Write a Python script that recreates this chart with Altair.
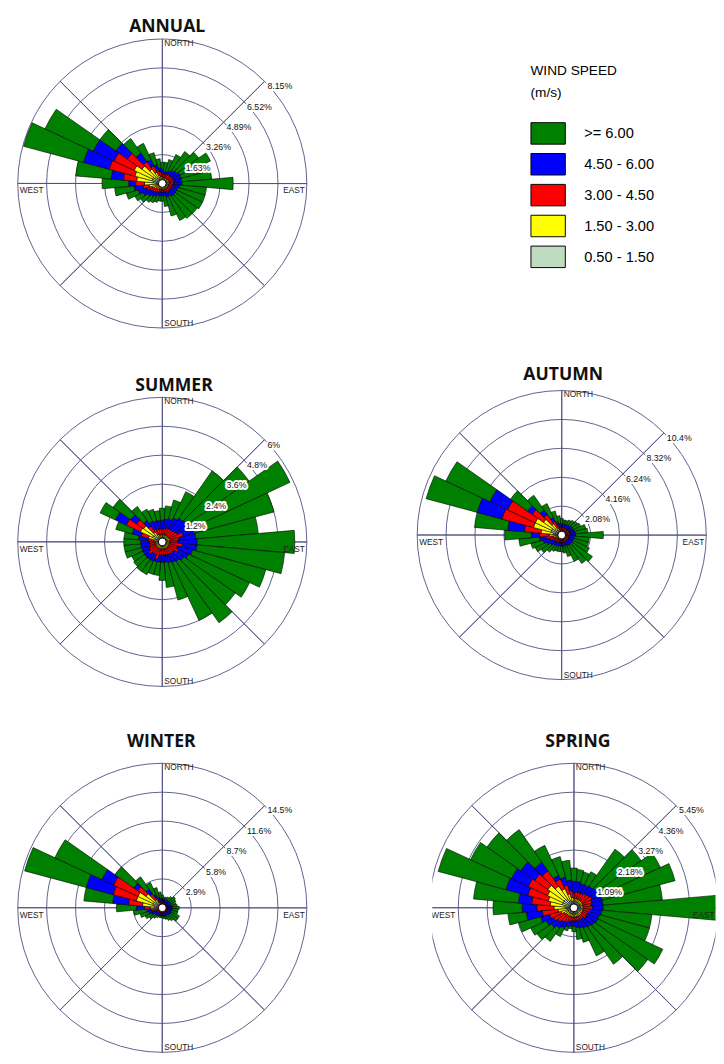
import math
import altair as alt
import pandas as pd

# ---------------- data ----------------
DIRS = list(range(0, 360, 10))  # sector centres, degrees from north
CLASSES = [">= 6.00", "4.50 - 6.00", "3.00 - 4.50", "1.50 - 3.00", "0.50 - 1.50"]
COLORS = ["#008000", "#0000ff", "#ff0000", "#ffff00", "#c0dcc0"]

# cumulative frequency (%) of winds up to the top of each speed class, per direction
ANNUAL_TO_1_5 = [0.25, 0.25, 0.25, 0.25, 0.25, 0.25, 0.25, 0.25, 0.25, 0.25, 0.25, 0.25, 0.25, 0.25, 0.25, 0.25, 0.25, 0.25,
                 0.25, 0.25, 0.25, 0.25, 0.25, 0.25, 0.25, 0.25, 0.3, 0.35, 0.5, 0.6, 0.6, 0.5, 0.4, 0.3, 0.25, 0.25]
ANNUAL_TO_3_0 = [0.4, 0.35, 0.35, 0.35, 0.35, 0.35, 0.4, 0.4, 0.4, 0.4, 0.35, 0.35, 0.35, 0.35, 0.35, 0.35, 0.35, 0.35,
                 0.35, 0.35, 0.35, 0.35, 0.4, 0.4, 0.5, 0.6, 0.75, 1.0, 1.45, 1.6, 1.75, 1.4, 1.0, 0.7, 0.5, 0.4]
ANNUAL_TO_4_5 = [0.6, 0.55, 0.55, 0.55, 0.6, 0.6, 0.65, 0.65, 0.65, 0.65, 0.6, 0.55, 0.55, 0.55, 0.55, 0.5, 0.5, 0.5,
                 0.5, 0.5, 0.5, 0.55, 0.6, 0.65, 0.75, 0.9, 1.1, 1.5, 2.2, 3.1, 3.0, 2.4, 1.5, 1.1, 0.8, 0.65]
ANNUAL_TO_6_0 = [0.8, 0.7, 0.7, 0.8, 0.9, 1.0, 1.1, 1.1, 1.1, 1.1, 1.0, 0.9, 0.9, 0.9, 0.9, 0.8, 0.8, 0.7,
                 0.7, 0.7, 0.7, 0.8, 0.9, 1.0, 1.2, 1.4, 1.6, 1.9, 2.9, 4.6, 4.3, 3.2, 2.1, 1.5, 1.1, 0.9]
ANNUAL_ALL = [1.2, 1.2, 1.4, 1.8, 2.2, 2.5, 3.0, 2.7, 2.8, 4.0, 2.5, 2.5, 2.5, 2.4, 2.4, 2.3, 1.9, 1.3,
              1.0, 1.0, 1.1, 1.2, 1.3, 1.5, 1.7, 2.1, 2.7, 3.4, 4.9, 8.1, 7.3, 4.3, 3.1, 2.5, 1.8, 1.4]
ANNUAL_RINGS = [1.63, 3.26, 4.89, 6.52, 8.15]
ANNUAL_RING_LABELS = ["1.63%", "3.26%", "4.89%", "6.52%", "8.15%"]

SUMMER_TO_1_5 = [0.18, 0.18, 0.18, 0.18, 0.18, 0.18, 0.18, 0.18, 0.18, 0.18, 0.18, 0.18, 0.18, 0.18, 0.18, 0.18, 0.18, 0.18,
                 0.18, 0.18, 0.18, 0.18, 0.18, 0.18, 0.18, 0.18, 0.18, 0.18, 0.2, 0.3, 0.45, 0.4, 0.25, 0.18, 0.18, 0.18]
SUMMER_TO_3_0 = [0.3, 0.3, 0.3, 0.3, 0.3, 0.3, 0.3, 0.35, 0.3, 0.3, 0.3, 0.3, 0.3, 0.3, 0.3, 0.3, 0.3, 0.3,
                 0.3, 0.3, 0.3, 0.3, 0.3, 0.3, 0.3, 0.3, 0.3, 0.3, 0.35, 0.6, 1.0, 0.95, 0.5, 0.35, 0.3, 0.3]
SUMMER_TO_4_5 = [0.55, 0.55, 0.6, 0.6, 0.6, 0.65, 0.7, 0.9, 0.7, 0.65, 0.85, 0.65, 0.75, 0.6, 0.6, 0.55, 0.55, 0.55,
                 0.55, 0.55, 0.75, 0.6, 0.6, 0.7, 0.6, 0.55, 0.55, 0.55, 0.6, 0.9, 1.65, 1.3, 0.8, 0.6, 0.55, 0.55]
SUMMER_TO_6_0 = [0.9, 0.95, 1.0, 1.1, 1.2, 1.25, 1.3, 1.35, 1.4, 1.45, 1.45, 1.3, 1.2, 1.1, 1.0, 0.95, 0.9, 0.85,
                 0.85, 0.85, 0.85, 0.9, 0.9, 0.9, 0.9, 0.9, 0.9, 0.9, 1.0, 1.3, 2.15, 1.6, 1.1, 0.95, 0.9, 0.9]
SUMMER_ALL = [1.4, 1.5, 1.8, 2.3, 3.6, 4.4, 5.85, 4.8, 4.0, 5.5, 5.1, 4.45, 4.0, 3.7, 4.1, 3.6, 2.5, 1.9,
              1.6, 1.4, 1.4, 1.5, 1.5, 1.45, 1.4, 1.6, 1.6, 1.6, 1.6, 2.0, 2.85, 2.5, 1.8, 1.5, 1.4, 1.3]
SUMMER_RINGS = [1.2, 2.4, 3.6, 4.8, 6.0]
SUMMER_RING_LABELS = ["1.2%", "2.4%", "3.6%", "4.8%", "6%"]

AUTUMN_TO_1_5 = [0.3, 0.3, 0.3, 0.3, 0.3, 0.3, 0.3, 0.3, 0.3, 0.3, 0.3, 0.3, 0.3, 0.3, 0.3, 0.3, 0.3, 0.3,
                 0.3, 0.3, 0.3, 0.3, 0.3, 0.3, 0.3, 0.3, 0.3, 0.45, 0.6, 0.8, 0.8, 0.6, 0.45, 0.3, 0.3, 0.3]
AUTUMN_TO_3_0 = [0.35, 0.35, 0.35, 0.35, 0.35, 0.35, 0.35, 0.35, 0.35, 0.35, 0.35, 0.35, 0.35, 0.35, 0.35, 0.35, 0.35, 0.35,
                 0.35, 0.35, 0.35, 0.35, 0.35, 0.35, 0.4, 0.45, 0.6, 0.9, 1.5, 2.1, 2.1, 1.6, 1.0, 0.6, 0.45, 0.35]
AUTUMN_TO_4_5 = [0.55, 0.55, 0.55, 0.55, 0.55, 0.55, 0.55, 0.6, 0.6, 0.6, 0.55, 0.55, 0.55, 0.55, 0.55, 0.55, 0.55, 0.55,
                 0.55, 0.55, 0.55, 0.55, 0.6, 0.6, 0.7, 0.9, 1.1, 1.6, 2.7, 4.45, 4.3, 2.6, 1.8, 1.1, 0.7, 0.6]
AUTUMN_TO_6_0 = [0.8, 0.8, 0.8, 0.8, 0.85, 0.9, 0.9, 0.95, 1.0, 1.0, 0.95, 0.9, 0.9, 0.9, 0.9, 0.85, 0.8, 0.8,
                 0.8, 0.8, 0.8, 0.85, 0.9, 1.0, 1.2, 1.4, 1.6, 2.2, 3.9, 6.3, 5.7, 3.0, 2.2, 1.4, 1.0, 0.85]
AUTUMN_ALL = [1.2, 1.1, 1.1, 1.2, 1.3, 1.4, 1.5, 1.8, 1.9, 3.0, 2.0, 2.0, 2.2, 2.7, 2.5, 2.1, 1.6, 1.3,
              1.2, 1.2, 1.2, 1.3, 1.5, 1.8, 2.1, 2.3, 3.1, 4.1, 6.3, 10.1, 9.2, 4.5, 3.5, 2.5, 1.8, 1.4]
AUTUMN_RINGS = [2.08, 4.16, 6.24, 8.32, 10.4]
AUTUMN_RING_LABELS = ["2.08%", "4.16%", "6.24%", "8.32%", "10.4%"]

WINTER_TO_1_5 = [0.3, 0.3, 0.3, 0.3, 0.3, 0.3, 0.3, 0.3, 0.3, 0.3, 0.3, 0.3, 0.3, 0.3, 0.3, 0.3, 0.3, 0.3,
                 0.3, 0.3, 0.3, 0.3, 0.3, 0.3, 0.3, 0.3, 0.3, 0.5, 0.8, 1.0, 1.0, 0.8, 0.5, 0.3, 0.3, 0.3]
WINTER_TO_3_0 = [0.3, 0.3, 0.3, 0.3, 0.3, 0.3, 0.3, 0.3, 0.3, 0.3, 0.3, 0.3, 0.3, 0.3, 0.3, 0.3, 0.3, 0.3,
                 0.3, 0.3, 0.3, 0.3, 0.3, 0.3, 0.35, 0.45, 0.6, 1.2, 2.0, 2.7, 2.7, 2.0, 1.0, 0.6, 0.4, 0.3]
WINTER_TO_4_5 = [0.55, 0.55, 0.55, 0.55, 0.55, 0.55, 0.55, 0.55, 0.55, 0.55, 0.55, 0.55, 0.55, 0.55, 0.55, 0.55, 0.55, 0.55,
                 0.55, 0.55, 0.55, 0.55, 0.55, 0.6, 0.7, 0.85, 1.1, 1.8, 3.4, 5.1, 5.4, 3.0, 1.7, 1.1, 0.75, 0.6]
WINTER_TO_6_0 = [0.9, 0.85, 0.85, 0.85, 0.9, 0.95, 0.95, 0.9, 0.95, 1.0, 1.0, 0.95, 1.0, 1.0, 0.95, 0.9, 0.85, 0.85,
                 0.8, 0.8, 0.8, 0.85, 0.9, 1.0, 1.2, 1.4, 1.6, 2.6, 5.0, 7.9, 6.7, 3.5, 2.3, 1.5, 1.1, 0.95]
WINTER_ALL = [1.3, 1.1, 1.1, 1.2, 1.4, 1.6, 1.5, 1.4, 1.5, 1.7, 1.6, 1.6, 1.9, 1.9, 1.6, 1.4, 1.2, 1.1,
              1.0, 1.0, 1.0, 1.1, 1.3, 1.6, 1.9, 2.3, 2.9, 4.6, 7.9, 14.3, 11.9, 5.8, 3.8, 2.8, 2.1, 1.6]
WINTER_RINGS = [2.9, 5.8, 8.7, 11.6, 14.5]
WINTER_RING_LABELS = ["2.9%", "5.8%", "8.7%", "11.6%", "14.5%"]

SPRING_TO_1_5 = [0.25, 0.25, 0.25, 0.25, 0.25, 0.25, 0.25, 0.25, 0.25, 0.25, 0.25, 0.25, 0.25, 0.25, 0.25, 0.25, 0.25, 0.25,
                 0.25, 0.25, 0.25, 0.25, 0.25, 0.25, 0.25, 0.25, 0.25, 0.3, 0.35, 0.45, 0.45, 0.45, 0.4, 0.3, 0.25, 0.25]
SPRING_TO_3_0 = [0.35, 0.35, 0.35, 0.35, 0.35, 0.35, 0.35, 0.35, 0.35, 0.35, 0.35, 0.35, 0.35, 0.35, 0.35, 0.35, 0.35, 0.35,
                 0.35, 0.35, 0.35, 0.35, 0.35, 0.35, 0.4, 0.5, 0.6, 0.75, 0.9, 1.0, 1.1, 1.2, 1.0, 0.8, 0.55, 0.4]
SPRING_TO_4_5 = [0.55, 0.6, 0.6, 0.6, 0.65, 0.7, 0.75, 0.7, 0.65, 0.7, 0.6, 0.55, 0.55, 0.55, 0.5, 0.5, 0.5, 0.5,
                 0.5, 0.5, 0.55, 0.6, 0.65, 0.75, 0.85, 0.95, 1.2, 1.4, 1.6, 1.8, 1.9, 1.8, 1.7, 1.2, 0.9, 0.65]
SPRING_TO_6_0 = [1.0, 1.0, 0.95, 0.95, 1.0, 1.05, 1.1, 1.1, 1.1, 1.1, 1.05, 1.0, 1.0, 0.95, 0.9, 0.85, 0.8, 0.75,
                 0.7, 0.7, 0.75, 0.85, 0.95, 1.05, 1.15, 1.3, 1.8, 1.95, 2.1, 2.65, 2.6, 2.45, 2.1, 1.35, 1.2, 1.05]
SPRING_ALL = [1.5, 1.45, 1.4, 1.5, 2.7, 3.1, 3.6, 3.95, 3.35, 5.6, 2.95, 2.95, 3.7, 3.4, 2.6, 2.0, 1.35, 1.2,
              0.9, 0.8, 0.9, 1.2, 1.55, 1.7, 1.8, 2.15, 2.5, 3.05, 3.8, 5.3, 4.3, 4.0, 3.6, 2.6, 2.0, 1.8]
SPRING_RINGS = [1.09, 2.18, 3.27, 4.36, 5.45]
SPRING_RING_LABELS = ["1.09%", "2.18%", "3.27%", "4.36%", "5.45%"]

SPOKES = [0, 45, 90, 135, 180, 225, 270, 315]

# ---------------- styling ----------------
R_PX = 148
GRID = "#4d4d80"
LABEL_FONT = "Liberation Sans"
TAU = 2 * math.pi

LEGEND = alt.Legend(
    title=["WIND SPEED", "(m/s)"], orient="none", legendX=527, legendY=28.2, direction="vertical",
    titleFont=LABEL_FONT, titleFontSize=14, titleFontWeight="normal", titleColor="black",
    titleLineHeight=22, titlePadding=23, titleLimit=300,
    labelFont=LABEL_FONT, labelFontSize=15, labelColor="black", labelOffset=32, labelLimit=300,
    symbolType="M-1,-1H2.2V1H-1Z", symbolSize=484, symbolStrokeColor="black",
    symbolStrokeWidth=1, symbolOpacity=1, rowPadding=4.6,
)


def rose(title, cums, rings, ring_labels, width=300, height=300, title_offset=6, title_dx=0,
         east_dx=-2, clip=False):
    outer = rings[-1]
    rscale = alt.Scale(type="linear", domain=[0, outer], range=[0, R_PX], zero=True, nice=False)
    tscale = alt.Scale(type="linear", domain=[0, 360], range=[0, TAU], zero=False, nice=False)

    rows = []
    inner_to_outer = CLASSES[::-1]
    for i, d in enumerate(DIRS):
        prev = 0.0
        for cls, arr in zip(inner_to_outer, cums):
            rows.append({"a0": d - 5, "a1": d + 5, "r0": prev, "r1": arr[i], "speed": cls})
            prev = arr[i]
    bars_df = pd.DataFrame(rows)
    ring_df = pd.DataFrame({"r": rings, "label": ring_labels})
    spoke_df = pd.DataFrame({"a": SPOKES})
    spoke_df["a2"] = spoke_df["a"] + 0.05

    ring_layer = alt.Chart(ring_df).mark_arc(fillOpacity=0, stroke=GRID, strokeWidth=0.9, clip=clip).encode(
        theta=alt.value(0), theta2=alt.value(TAU),
        radius=alt.Radius("r:Q", scale=rscale, stack=False),
    )
    spoke_layer = alt.Chart(spoke_df).mark_arc(fillOpacity=0, stroke=GRID, strokeWidth=0.9, clip=clip).encode(
        theta=alt.Theta("a:Q", scale=tscale, stack=False), theta2="a2:Q",
        radius=alt.value(R_PX),
    )
    bar_layer = alt.Chart(bars_df).mark_arc(stroke="black", strokeWidth=0.6, clip=clip).encode(
        theta=alt.Theta("a0:Q", scale=tscale, stack=False), theta2="a1:Q",
        radius=alt.Radius("r1:Q", scale=rscale, stack=False), radius2="r0:Q",
        color=alt.Color("speed:N", scale=alt.Scale(domain=CLASSES, range=COLORS), legend=LEGEND),
    )
    calm_layer = alt.Chart(pd.DataFrame({"c": [0]})).mark_arc(
        fill="white", stroke="black", strokeWidth=1, clip=clip
    ).encode(theta=alt.value(0), theta2=alt.value(TAU), radius=alt.value(4))
    halo = alt.Chart(ring_df).mark_text(
        align="left", baseline="middle", dx=3, dy=5, fontSize=9, font=LABEL_FONT,
        color="white", stroke="white", strokeWidth=4, strokeJoin="round", clip=clip,
    ).encode(theta=alt.value(math.pi / 4), radius=alt.Radius("r:Q", scale=rscale, stack=False), text="label:N")
    ring_text = alt.Chart(ring_df).mark_text(
        align="left", baseline="middle", dx=3, dy=5, fontSize=9, font=LABEL_FONT, color="#111111", clip=clip,
    ).encode(theta=alt.value(math.pi / 4), radius=alt.Radius("r:Q", scale=rscale, stack=False), text="label:N")

    def card(txt, ang, align, dx, dy):
        return alt.Chart(pd.DataFrame({"t": [txt]})).mark_text(
            align=align, baseline="middle", dx=dx, dy=dy, fontSize=8.5, font=LABEL_FONT, color="#222222",
            clip=clip,
        ).encode(theta=alt.value(ang), radius=alt.value(R_PX), text="t:N")

    cards = [
        card("NORTH", 0, "left", 2, 4),
        card("EAST", math.pi / 2, "right", east_dx, 7),
        card("SOUTH", math.pi, "left", 2, -5),
        card("WEST", 3 * math.pi / 2, "left", 2, 7),
    ]

    return alt.layer(ring_layer, spoke_layer, bar_layer, calm_layer, halo, ring_text, *cards).properties(
        width=width, height=height,
        title=alt.TitleParams(title, fontSize=18, font="Open Sans", fontWeight="bold", color="#111111",
                              anchor="middle", offset=title_offset, dx=title_dx),
    )


annual = rose("ANNUAL", [ANNUAL_TO_1_5, ANNUAL_TO_3_0, ANNUAL_TO_4_5, ANNUAL_TO_6_0, ANNUAL_ALL],
              ANNUAL_RINGS, ANNUAL_RING_LABELS, title_offset=1.5, title_dx=5)
summer = rose("SUMMER", [SUMMER_TO_1_5, SUMMER_TO_3_0, SUMMER_TO_4_5, SUMMER_TO_6_0, SUMMER_ALL],
              SUMMER_RINGS, SUMMER_RING_LABELS, title_offset=0.5, title_dx=12)
autumn = rose("AUTUMN", [AUTUMN_TO_1_5, AUTUMN_TO_3_0, AUTUMN_TO_4_5, AUTUMN_TO_6_0, AUTUMN_ALL],
              AUTUMN_RINGS, AUTUMN_RING_LABELS, height=286, title_offset=5, title_dx=1.5)
winter = rose("WINTER", [WINTER_TO_1_5, WINTER_TO_3_0, WINTER_TO_4_5, WINTER_TO_6_0, WINTER_ALL],
              WINTER_RINGS, WINTER_RING_LABELS, title_offset=10.9, title_dx=-1)
spring = rose("SPRING", [SPRING_TO_1_5, SPRING_TO_3_0, SPRING_TO_4_5, SPRING_TO_6_0, SPRING_ALL],
              SPRING_RINGS, SPRING_RING_LABELS, width=290, title_offset=10.9, title_dx=4, east_dx=-4, clip=True)

row2 = alt.hconcat(summer, autumn, spacing=109).resolve_scale(theta="independent", radius="independent")
row3 = alt.hconcat(winter, spring, spacing=126.5).resolve_scale(theta="independent", radius="independent")
top_rows = alt.vconcat(annual, row2, spacing=37).resolve_scale(theta="independent", radius="independent")

chart = alt.vconcat(top_rows, row3, spacing=45.7).resolve_scale(
    theta="independent", radius="independent"
).properties(
    padding={"left": 8, "top": -3, "right": 0, "bottom": 0}
).configure_view(strokeWidth=0, fill="white").configure(background="white")

chart.save("out.html", embed_options={"renderer": "svg", "actions": False})
